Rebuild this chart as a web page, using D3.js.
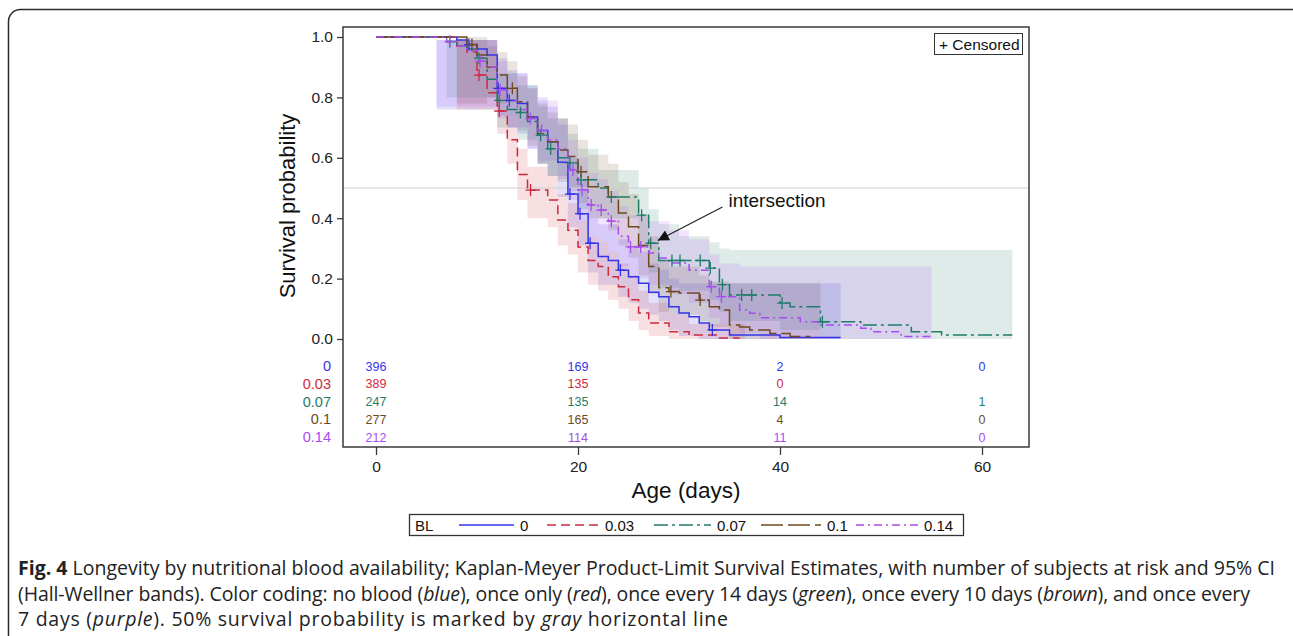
<!DOCTYPE html>
<html>
<head>
<meta charset="utf-8">
<script src="https://cdn.jsdelivr.net/npm/d3@7"></script>
<style>
  body { margin: 0; background: #fff; }
  svg text { font-family: "Liberation Sans", Arial, sans-serif; }
  svg text.caption { font-family: "Open Sans", "Noto Sans", sans-serif; }
</style>
</head>
<body>
<div id="chart"></div>
<script>
// Data
// =================================
var groups = ["0", "0.03", "0.07", "0.1", "0.14"];
var colors = ["#3434e6", "#cc2a3c", "#1f7c69", "#6e4a1f", "#a64cf0"];
var dashes = [null, "9,5", "14,4,3,4", "22,5", "8,4,2,4"];

// step curves: day of drop and survival after it (last entry = end of follow-up)
var days0 = [0, 8, 9, 10, 11, 12, 13, 14, 15, 16, 17, 18, 19, 20, 21, 22, 23, 24, 25, 26, 27, 28, 29, 30, 31, 32, 33, 35, 40, 46];
var surv0 = [1, 0.99, 0.975, 0.96, 0.94, 0.83, 0.79, 0.78, 0.735, 0.69, 0.653, 0.585, 0.48, 0.415, 0.317, 0.273, 0.26, 0.228, 0.206, 0.185, 0.155, 0.14, 0.107, 0.086, 0.074, 0.053, 0.03, 0.013, 0.005, 0.005];
var cens0 = [9.2, 12.1, 13.2, 19.2, 20.2, 21.2, 24.2, 33.3];

var days1 = [0, 8, 9, 10, 11, 12, 13, 14, 15, 17, 18, 19, 20, 21, 22, 23, 24, 25, 26, 27, 29, 31, 34, 36];
var surv1 = [1, 0.97, 0.95, 0.874, 0.815, 0.755, 0.66, 0.545, 0.493, 0.46, 0.394, 0.36, 0.305, 0.26, 0.24, 0.206, 0.173, 0.13, 0.086, 0.053, 0.024, 0.013, 0.003, 0.003];
var cens1 = [10.2, 12.2, 15.3];

var days2 = [0, 7, 8, 9, 10, 11, 12, 13, 14, 15, 16, 17, 18, 19, 20, 22, 23, 26, 27, 28, 33, 34, 35, 40, 41, 44, 48, 53, 56, 63];
var surv2 = [1, 0.985, 0.97, 0.96, 0.93, 0.86, 0.79, 0.76, 0.75, 0.72, 0.675, 0.63, 0.6, 0.583, 0.527, 0.5, 0.47, 0.41, 0.317, 0.26, 0.235, 0.18, 0.146, 0.119, 0.107, 0.057, 0.046, 0.024, 0.013, 0.013];
var cens2 = [7.3, 10.2, 12.2, 14.3, 16.3, 17.3, 19.2, 20.3, 23.3, 26.3, 27.2, 29.3, 30.1, 32.1, 33.1, 34.3, 36.2, 37.2, 40.2, 44.2];

var days3 = [0, 9, 10, 11, 12, 13, 14, 15, 16, 17, 18, 19, 20, 21, 23, 24, 25, 26, 27, 28, 29, 30, 32, 33, 34, 35, 36, 37, 39, 41, 43];
var surv3 = [1, 0.975, 0.94, 0.9, 0.874, 0.83, 0.786, 0.736, 0.68, 0.653, 0.626, 0.604, 0.554, 0.504, 0.47, 0.417, 0.372, 0.31, 0.24, 0.17, 0.157, 0.152, 0.129, 0.107, 0.096, 0.046, 0.04, 0.03, 0.018, 0.008, 0.008];
var cens3 = [9.5, 13.5, 20.3, 29.2, 32.1];

var days4 = [0, 7, 8, 9, 10, 11, 12, 13, 14, 15, 16, 17, 18, 19, 20, 21, 22, 23, 24, 25, 27, 28, 29, 31, 33, 34, 36, 37, 38, 42, 44, 48, 49, 52, 55];
var surv4 = [1, 0.985, 0.97, 0.955, 0.92, 0.9, 0.825, 0.79, 0.76, 0.73, 0.69, 0.66, 0.63, 0.56, 0.494, 0.444, 0.427, 0.39, 0.34, 0.305, 0.285, 0.268, 0.252, 0.228, 0.173, 0.14, 0.096, 0.085, 0.07, 0.057, 0.046, 0.036, 0.024, 0.008, 0.008];
var cens4 = [7.3, 10.3, 12.3, 15.3, 16.4, 19.5, 20.4, 21.3, 22.3, 23.3, 25.2, 26.2, 33.2, 34.2];

// Hall-Wellner bands (step changes)
var band0Days = [6, 12, 13, 14, 15, 16, 17, 18, 19, 20, 21, 22, 24, 25, 26, 27, 28, 29, 30, 32, 46];
var band0Lo = [0.76, 0.74, 0.70, 0.68, 0.63, 0.58, 0.54, 0.47, 0.37, 0.31, 0.22, 0.18, 0.14, 0.12, 0.10, 0.08, 0.06, 0.03, 0.01, 0, 0];
var band0Hi = [0.99, 0.93, 0.89, 0.88, 0.84, 0.80, 0.77, 0.71, 0.60, 0.53, 0.43, 0.38, 0.33, 0.31, 0.29, 0.25, 0.23, 0.20, 0.185, 0.185, 0.185];

var band1Days = [8, 12, 13, 14, 15, 17, 18, 19, 20, 21, 22, 23, 24, 25, 26, 27, 29, 31, 36.5];
var band1Lo = [0.76, 0.68, 0.58, 0.46, 0.40, 0.37, 0.31, 0.28, 0.22, 0.18, 0.16, 0.13, 0.10, 0.06, 0.03, 0.01, 0, 0, 0];
var band1Hi = [0.99, 0.83, 0.74, 0.63, 0.57, 0.55, 0.48, 0.45, 0.39, 0.34, 0.32, 0.29, 0.25, 0.21, 0.16, 0.12, 0.08, 0.05, 0.05];

var band2Days = [7, 12, 14, 16, 17, 19, 20, 22, 26, 27, 28, 30, 33, 34, 35, 40, 44, 63];
var band2Lo = [0.80, 0.70, 0.66, 0.58, 0.54, 0.49, 0.43, 0.40, 0.31, 0.22, 0.17, 0.16, 0.13, 0.09, 0.06, 0.03, 0, 0];
var band2Hi = [0.99, 0.88, 0.84, 0.77, 0.73, 0.68, 0.63, 0.56, 0.50, 0.43, 0.38, 0.34, 0.32, 0.30, 0.295, 0.295, 0.295, 0.295];

var band3Days = [8, 11, 12, 13, 14, 15, 16, 17, 18, 19, 20, 21, 23, 24, 25, 26, 27, 28, 29, 32, 33, 35, 44];
var band3Lo = [0.78, 0.80, 0.78, 0.74, 0.69, 0.64, 0.58, 0.55, 0.52, 0.50, 0.45, 0.40, 0.36, 0.31, 0.27, 0.21, 0.15, 0.09, 0.08, 0.06, 0.04, 0, 0];
var band3Hi = [1.0, 0.97, 0.95, 0.92, 0.87, 0.83, 0.78, 0.75, 0.73, 0.71, 0.66, 0.61, 0.58, 0.52, 0.48, 0.41, 0.34, 0.26, 0.24, 0.21, 0.19, 0.185, 0.185];

var band4Days = [6, 12, 13, 15, 16, 18, 19, 20, 21, 22, 23, 24, 25, 27, 29, 31, 33, 34, 36, 38, 55];
var band4Lo = [0.77, 0.73, 0.70, 0.63, 0.59, 0.53, 0.46, 0.39, 0.34, 0.32, 0.29, 0.24, 0.20, 0.18, 0.15, 0.12, 0.07, 0.05, 0.02, 0, 0];
var band4Hi = [0.99, 0.92, 0.88, 0.83, 0.79, 0.73, 0.66, 0.60, 0.55, 0.53, 0.49, 0.44, 0.41, 0.39, 0.36, 0.33, 0.28, 0.25, 0.24, 0.24, 0.24];

// number at risk table
var riskTimes = [0, 20, 40, 60];
var risk0 = [396, 169, 2, 0];
var risk1 = [389, 135, 0, null];
var risk2 = [247, 135, 14, 1];
var risk3 = [277, 165, 4, 0];
var risk4 = [212, 114, 11, 0];

var yTicks = [0, 0.2, 0.4, 0.6, 0.8, 1.0];
var xTicks = [0, 20, 40, 60];

var curves = [
    { days: days0, surv: surv0, cens: cens0, bDays: band0Days, lo: band0Lo, hi: band0Hi, risk: risk0 },
    { days: days1, surv: surv1, cens: cens1, bDays: band1Days, lo: band1Lo, hi: band1Hi, risk: risk1 },
    { days: days2, surv: surv2, cens: cens2, bDays: band2Days, lo: band2Lo, hi: band2Hi, risk: risk2 },
    { days: days3, surv: surv3, cens: cens3, bDays: band3Days, lo: band3Lo, hi: band3Hi, risk: risk3 },
    { days: days4, surv: surv4, cens: cens4, bDays: band4Days, lo: band4Lo, hi: band4Hi, risk: risk4 }
];

// Chart area
// =================================
var svgWidth = 1293;
var svgHeight = 636;
var frame = { left: 343, top: 27, right: 1029, bottom: 447 };

var svg = d3.select("#chart")
    .append("svg")
    .attr("width", svgWidth)
    .attr("height", svgHeight);

// outer rounded figure border
svg.append("rect")
    .attr("x", 8.5).attr("y", 9.5)
    .attr("width", 1300).attr("height", 700)
    .attr("rx", 12)
    .attr("fill", "none")
    .attr("stroke", "#2a2a2a")
    .attr("stroke-width", 1.5);

var x = d3.scaleLinear().domain([0, 60]).range([376, 982]);
var y = d3.scaleLinear().domain([0, 1]).range([339, 37]);

// confidence bands
// =================================
var area = d3.area()
    .curve(d3.curveStepAfter)
    .x(d => x(d.t))
    .y0(d => y(d.lo))
    .y1(d => y(d.hi));

svg.append("g")
    .selectAll("path")
    .data(curves)
    .enter()
    .append("path")
    .attr("d", c => area(c.bDays.map((t, i) => ({ t: t, lo: c.lo[i], hi: c.hi[i] }))))
    .attr("fill", (c, i) => colors[i])
    .attr("fill-opacity", 0.15)
    .attr("stroke", "none");

// 50% line
svg.append("line")
    .attr("x1", frame.left).attr("x2", frame.right)
    .attr("y1", y(0.5)).attr("y2", y(0.5))
    .attr("stroke", "#cfcfcf")
    .attr("stroke-width", 1.2);

// survival curves
// =================================
var line = d3.line()
    .curve(d3.curveStepAfter)
    .x(d => x(d[0]))
    .y(d => y(d[1]));

svg.append("g")
    .selectAll("path")
    .data(curves)
    .enter()
    .append("path")
    .attr("d", c => line(c.days.map((t, i) => [t, c.surv[i]])))
    .attr("fill", "none")
    .attr("stroke", (c, i) => colors[i])
    .attr("stroke-width", 1.5)
    .attr("stroke-dasharray", (c, i) => dashes[i]);

function survAt(c, t) {
    var s = 1;
    c.days.forEach(function (d, i) { if (d <= t) s = c.surv[i]; });
    return s;
}

// censored marks
curves.forEach(function (c, i) {
    svg.append("g")
        .selectAll("path")
        .data(c.cens)
        .enter()
        .append("path")
        .attr("d", t => {
            var cx = x(t), cy = y(survAt(c, t));
            return `M${cx - 5},${cy}h10M${cx},${cy - 6}v12`;
        })
        .attr("stroke", colors[i])
        .attr("stroke-width", 1.3)
        .attr("fill", "none");
});

// frame and axes
// =================================
svg.append("rect")
    .attr("x", frame.left).attr("y", frame.top)
    .attr("width", frame.right - frame.left)
    .attr("height", frame.bottom - frame.top)
    .attr("fill", "none")
    .attr("stroke", "#3a3a3a")
    .attr("stroke-width", 1.5);

var leftAxis = svg.append("g")
    .attr("transform", `translate(${frame.left}, 0)`)
    .call(d3.axisLeft(y).tickValues(yTicks).tickFormat(d3.format(".1f")).tickSize(6).tickPadding(4));
leftAxis.select(".domain").remove();

var bottomAxis = svg.append("g")
    .attr("transform", `translate(0, ${frame.bottom})`)
    .call(d3.axisBottom(x).tickValues(xTicks).tickSize(8).tickPadding(6));
bottomAxis.select(".domain").remove();

svg.selectAll(".tick text")
    .attr("font-family", "Liberation Sans, Arial, sans-serif")
    .attr("font-size", 15.5)
    .attr("fill", "#222");
svg.selectAll(".tick line").attr("stroke", "#3a3a3a").attr("stroke-width", 1.3);

svg.append("text")
    .attr("transform", "translate(295, 206) rotate(-90)")
    .attr("text-anchor", "middle")
    .attr("font-size", 22)
    .attr("fill", "#111")
    .text("Survival probability");

svg.append("text")
    .attr("x", (frame.left + frame.right) / 2)
    .attr("y", 498)
    .attr("text-anchor", "middle")
    .attr("font-size", 22.5)
    .attr("fill", "#111")
    .text("Age (days)");

// number at risk table
// =================================
var rowY = d3.scalePoint().domain(groups).range([366, 437]);

svg.append("g")
    .selectAll("text")
    .data(groups)
    .enter()
    .append("text")
    .attr("x", 331)
    .attr("y", g => rowY(g))
    .attr("dy", "0.36em")
    .attr("text-anchor", "end")
    .attr("font-size", 14.5)
    .attr("fill", (g, i) => colors[i])
    .text(g => g);

curves.forEach(function (c, i) {
    svg.append("g")
        .selectAll("text")
        .data(riskTimes.filter((t, j) => c.risk[j] !== null))
        .enter()
        .append("text")
        .attr("x", t => x(t))
        .attr("y", rowY(groups[i]))
        .attr("dy", "0.36em")
        .attr("text-anchor", "middle")
        .attr("font-size", 12.5)
        .attr("fill", colors[i])
        .text(t => c.risk[riskTimes.indexOf(t)]);
});

// censored legend
svg.append("rect")
    .attr("x", 934.5).attr("y", 33.5)
    .attr("width", 88).attr("height", 21)
    .attr("fill", "#fff")
    .attr("stroke", "#333");
svg.append("text")
    .attr("x", 939).attr("y", 49.5)
    .attr("font-size", 15.5)
    .attr("fill", "#111")
    .text("+ Censored");

// intersection annotation
// =================================
var defs = svg.append("defs");
defs.append("marker")
    .attr("id", "arrow")
    .attr("viewBox", "0 0 10 10")
    .attr("refX", 10).attr("refY", 5)
    .attr("markerUnits", "userSpaceOnUse")
    .attr("markerWidth", 13).attr("markerHeight", 11)
    .attr("orient", "auto")
    .append("path")
    .attr("d", "M0,0L10,5L0,10z")
    .attr("fill", "#111");

svg.append("line")
    .attr("x1", x(34.3)).attr("y1", y(0.437))
    .attr("x2", x(27.9)).attr("y2", y(0.326))
    .attr("stroke", "#222")
    .attr("stroke-width", 1.2)
    .attr("marker-end", "url(#arrow)");

svg.append("text")
    .attr("x", x(34.9)).attr("y", y(0.438))
    .attr("font-size", 19)
    .attr("fill", "#111")
    .text("intersection");

// group legend
// =================================
var legX = [459, 547, 654, 761, 856];
var legW = [55, 52, 57, 60, 62];
svg.append("rect")
    .attr("x", 409.5).attr("y", 514.5)
    .attr("width", 554).attr("height", 21)
    .attr("fill", "none")
    .attr("stroke", "#333")
    .attr("stroke-width", 1.3);
svg.append("text")
    .attr("x", 415).attr("y", 531)
    .attr("font-size", 15)
    .attr("fill", "#111")
    .text("BL");
groups.forEach(function (g, i) {
    svg.append("line")
        .attr("x1", legX[i]).attr("x2", legX[i] + legW[i])
        .attr("y1", 525).attr("y2", 525)
        .attr("stroke", colors[i])
        .attr("stroke-width", 1.6)
        .attr("stroke-dasharray", dashes[i]);
    svg.append("text")
        .attr("x", legX[i] + legW[i] + 6).attr("y", 531)
        .attr("font-size", 15)
        .attr("fill", "#111")
        .text(g);
});

// caption (justified lines, so each line gets its measured width)
// =================================
var captionWidths = [1257, 1232, 710];
var captionLines = [
    [["Fig. 4", "bold"], [" Longevity by nutritional blood availability; Kaplan-Meyer Product-Limit Survival Estimates, with number of subjects at risk and 95% CI", ""]],
    [["(Hall-Wellner bands). Color coding: no blood (", ""], ["blue", "italic"], ["), once only (", ""], ["red", "italic"], ["), once every 14 days (", ""], ["green", "italic"], ["), once every 10 days (", ""], ["brown", "italic"], ["), and once every", ""]],
    [["7 days (", ""], ["purple", "italic"], ["). 50% survival probability is marked by ", ""], ["gray", "italic"], [" horizontal line", ""]]
];
captionLines.forEach(function (parts, i) {
    var t = svg.append("text")
        .attr("class", "caption")
        .attr("x", 18)
        .attr("y", 575 + i * 25.5)
        .attr("font-size", 19.5)
        .attr("textLength", captionWidths[i])
        .attr("lengthAdjust", "spacing")
        .attr("fill", "#222");
    parts.forEach(function (p) {
        t.append("tspan")
            .attr("font-weight", p[1] === "bold" ? "bold" : null)
            .attr("font-style", p[1] === "italic" ? "italic" : null)
            .text(p[0]);
    });
});
</script>
</body>
</html>
